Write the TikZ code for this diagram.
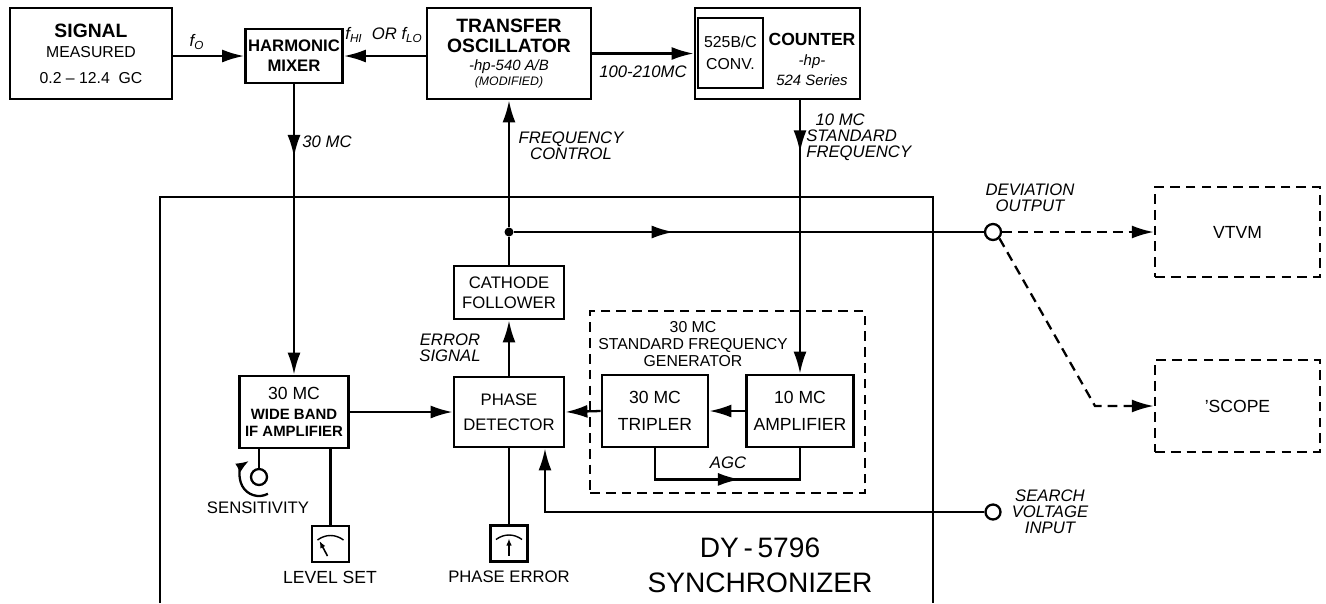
\documentclass[tikz,border=0pt]{standalone}
\usepackage{fontspec}
\setmainfont{Liberation Sans}
\usetikzlibrary{arrows.meta,decorations.markings}

\begin{document}
\begin{tikzpicture}[x=0.02cm,y=-0.02cm,
  blk/.style={draw,line width=1.6pt,align=center,inner sep=0pt,font=\fontsize{9.5}{11.4}\selectfont},
  dblk/.style={blk,dash pattern=on 5.5pt off 3.5pt,line width=1.4pt},
  lbl/.style={align=center,inner sep=0pt,font=\fontsize{9.5}{9.2}\selectfont\itshape},
  txt/.style={align=center,inner sep=0pt,font=\fontsize{9.5}{11}\selectfont},
  jack/.style={circle,draw,fill=white,line width=1.3pt,inner sep=0pt,minimum size=#1},
  meter/.style={draw,line width=1.4pt,minimum width=0.74cm,minimum height=0.72cm,inner sep=0pt},
  ln/.style={line width=1.3pt},
  dl/.style={ln,dash pattern=on 5.5pt off 3.5pt},
  midarr/.style={postaction={decorate,decoration={markings,
      mark=at position #1 with {\arrow{Latex[length=4.4mm,width=2.6mm]}}}}},
  >={Latex[length=4.4mm,width=2.6mm]}]
\useasboundingbox (0,0) rectangle (1326,603);

% top row
\node[blk,minimum width=3.24cm,minimum height=1.82cm,font=\fontsize{9}{11.5}\selectfont] (sig) at (91,53.5)
  {{\fontsize{11}{11}\selectfont\bfseries SIGNAL}\\MEASURED\\[3pt]0.2 -- 12.4\ \ GC};
\node[blk,minimum width=1.94cm,minimum height=1.08cm,font=\fontsize{9.5}{11.4}\selectfont\bfseries] (mix) at (294,56)
  {HARMONIC\\MIXER};
\node[blk,minimum width=3.28cm,minimum height=1.82cm,font=\fontsize{11}{11.4}\selectfont\bfseries] (osc) at (509,53.5)
  {TRANSFER\\OSCILLATOR\\[-1pt]{\fontsize{8.5}{9}\selectfont\mdseries\itshape -hp-540 A/B}\\[-3pt]{\fontsize{7}{8}\selectfont\mdseries\itshape (MODIFIED)}};
\node[blk,minimum width=3.3cm,minimum height=1.82cm] (ctr) at (777.5,53.5) {};
\node[draw,line width=0.7pt,minimum width=1.3cm,minimum height=1.4cm,align=center,inner sep=0pt,
  font=\fontsize{9}{12.5}\selectfont] (conv) at (730.5,53) {525B/C\\CONV.};
\node[txt,font=\fontsize{8.5}{11.4}\selectfont\itshape] (ctrtxt) at (812,59)
  {{\fontsize{10}{11}\selectfont\upshape\bfseries COUNTER}\\-hp-\\524 Series};

% synchronizer
\draw[line width=1.6pt] (160,603) -- (160,197) -- (933,197) -- (933,603);
\node[blk,minimum width=2.18cm,minimum height=1.44cm,font=\fontsize{8.5}{10.2}\selectfont\bfseries] (ifa) at (294,412)
  {{\fontsize{10}{12}\selectfont\mdseries 30 MC}\\[1pt]WIDE BAND\\IF AMPLIFIER};
\node[blk,minimum width=2.2cm,minimum height=1.06cm] (cf) at (509,292.5) {CATHODE\\FOLLOWER};
\node[blk,minimum width=2.2cm,minimum height=1.4cm,font=\fontsize{9.5}{14.2}\selectfont] (pd) at (509,412) {PHASE\\DETECTOR};
\node[dblk,minimum width=5.5cm,minimum height=3.64cm] (gen) at (727.5,402) {};
\node[txt,font=\fontsize{9}{9.7}\selectfont] (genlbl) at (693,344) {30 MC\\STANDARD FREQUENCY\\GENERATOR};
\node[blk,minimum width=2.12cm,minimum height=1.44cm,font=\fontsize{10}{15.4}\selectfont] (tri) at (655,411) {30 MC\\TRIPLER};
\node[blk,minimum width=2.14cm,minimum height=1.44cm,font=\fontsize{10}{15.4}\selectfont] (amp) at (800,411) {10 MC\\AMPLIFIER};
\node[circle,fill,inner sep=0pt,minimum size=0.18cm] (jn) at (509,232) {};
\node[jack=0.32cm] (devout) at (993,232) {};
\node[jack=0.3cm] (srch) at (993,512) {};
\node[jack=0.32cm] (knob) at (259,477) {};
\node[meter] (lvl) at (330.5,544) {};
\node[meter] (pe) at (509,543.5) {};
\node[txt,font=\fontsize{16}{20}\selectfont] (dy) at (760,565) {DY\,-\,5796\\SYNCHRONIZER};

% outside units
\node[dblk,minimum width=3.3cm,minimum height=1.8cm,font=\fontsize{10}{12}\selectfont] (vtvm) at (1237.5,232) {VTVM};
\node[dblk,minimum width=3.3cm,minimum height=1.84cm,font=\fontsize{10}{12}\selectfont] (scope) at (1237.5,406) {'SCOPE};
\coordinate (bend) at (1095,406);
\coordinate (pdin) at ([xshift=0.72cm]pd.south);

% labels
\node[lbl] (f0) at (197,42) {f\textsubscript{O}};
\node[lbl] (fhl) at (384,35) {f\textsubscript{HI}\ \ OR f\textsubscript{LO}};
\node[lbl] (brd) at (643,72) {100-210MC};
\node[lbl] (if30) at (327,142) {30 MC};
\node[lbl] (fctl) at (571,146) {FREQUENCY\\CONTROL};
\node[lbl,align=left,anchor=west] (std) at (806,137) {\ \ 10 MC\\STANDARD\\FREQUENCY};
\node[lbl] (err) at (450,348) {ERROR\\SIGNAL};
\node[lbl] (agc) at (728,463) {AGC};
\node[lbl] (dev) at (1030,198) {DEVIATION\\OUTPUT};
\node[lbl] (svi) at (1050,512) {SEARCH\\VOLTAGE\\INPUT};
\node[txt] (sens) at (258,508) {SENSITIVITY};
\node[txt,font=\fontsize{10}{11}\selectfont] (lvlt) at (330,577) {LEVEL SET};
\node[txt] (pet) at (509,577) {PHASE ERROR};

% connectors
\draw[ln,->] (sig.east |- mix.west) -- (mix.west);
\draw[ln,->] (osc.west |- mix.east) -- (mix.east);
\draw[ln,->] (osc.east) -- (ctr.west);
\draw[ln,->,midarr=0.25] (mix.south) -- (ifa.north);
\draw[ln,->,midarr=0.19] (ctr.south -| amp.north) -- (amp.north);
\draw[ln,->] (ifa.east) -- (pd.west);
\draw[ln,->] (amp.west) -- (tri.east);
\draw[ln,->] (tri.west) -- (pd.east);
\draw[ln,midarr=0.56] (tri.south) -- ++(0,31) -| (amp.south);
\draw[ln,->] (pd.north) -- (cf.south);
\draw[ln] (cf.north) -- (jn);
\draw[ln,->] (jn) -- (osc.south);
\draw[ln,midarr=0.34] (jn) -- (devout.west);
\draw[dl,->] (devout.east) -- (vtvm.west);
\draw[dl,->] (devout.south east) -- (bend) -- (scope.west);
\draw[ln,->] (srch.west) -- (srch.west -| pdin) -- (pdin);
\draw[ln] (knob.north) -- (knob.north |- ifa.south);
\draw[ln] (lvl.north) -- (lvl.north |- ifa.south);
\draw[ln] (pe.north) -- (pd.south);
\draw[line width=1.3pt,-{Latex[length=2.6mm,width=2mm]}] (knob.center) ++(-62:0.38cm) arc[start angle=-62,end angle=-238,radius=0.38cm];

% meter faces
\begin{scope}[shift={(lvl.center)}]
  \draw[line width=0.8pt] (-13,-4) .. controls (-5,-10) and (5,-10) .. (13,-4);
  \draw[line width=0.9pt,-{Latex[length=1.4mm,width=1.1mm]}] (-3,12) -- (-11,-3);
\end{scope}
\begin{scope}[shift={(pe.center)}]
  \draw[line width=0.8pt] (-13,-4) .. controls (-5,-10) and (5,-10) .. (13,-4);
  \draw[line width=0.9pt,-{Latex[length=1.4mm,width=1.1mm]}] (0,12) -- (0,-5);
\end{scope}
\end{tikzpicture}
\end{document}
